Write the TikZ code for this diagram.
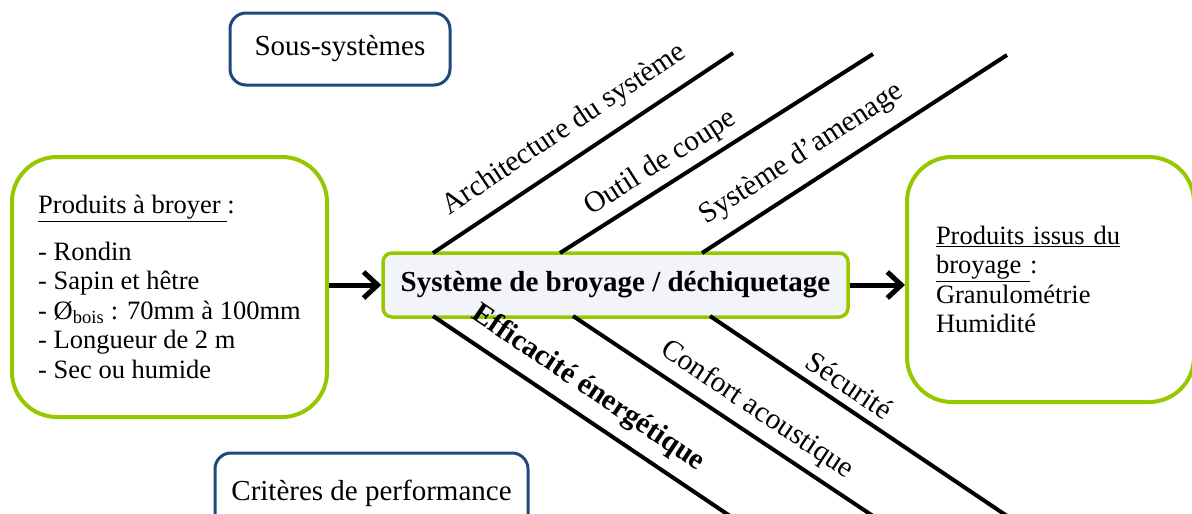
\documentclass[tikz,border=0pt]{standalone}
\usepackage{fontspec}
\setmainfont{Liberation Serif}
\usetikzlibrary{arrows.meta}
\definecolor{grn}{RGB}{150,200,0}
\definecolor{dblue}{RGB}{31,73,125}
\definecolor{cfill}{RGB}{242,244,250}
\begin{document}
\begin{tikzpicture}[x=1pt,y=-1pt,
  greenbox/.style={draw=grn, line width=4pt, rounded corners=45pt, inner sep=0pt, align=left, font=\fontsize{26.5}{29.5}\selectfont},
  bluebox/.style={draw=dblue, line width=3pt, rounded corners=16pt, inner sep=0pt, font=\fontsize{29}{32}\selectfont},
  corebox/.style={draw=grn, line width=3.5pt, fill=cfill, rounded corners=9pt, inner sep=0pt, font=\fontsize{29}{32}\selectfont\bfseries},
  bone/.style={line width=4pt},
  flow/.style={line width=5pt, -{Straight Barb[length=14pt,width=26pt]}},
  lbl/.style={sloped, font=\fontsize{29.5}{31}\selectfont, inner sep=0pt}]
\useasboundingbox (0,0) rectangle (1192,514);
% title boxes
\node[bluebox, minimum width=220pt, minimum height=72pt] (sous) at (340,49) {Sous-systèmes};
\node[bluebox, minimum width=313pt, minimum height=80pt] (crit) at (371.5,493) {Critères de performance};
% central box
\node[corebox, minimum width=465pt, minimum height=64pt] (core) at (615.5,285) {Système de broyage / déchiquetage};
% input and output
\node[greenbox, minimum width=315pt, minimum height=260pt] (inp) at (169.5,287)
  {\underline{Produits à broyer }:\\[17pt]
   - Rondin\\
   - Sapin et hêtre\\
   - Ø\textsubscript{bois} : 70mm à 100mm\\
   - Longueur de 2 m\\
   - Sec ou humide};
\node[greenbox, text width=229pt, inner xsep=29pt, minimum height=245pt] (out) at (1050.5,279.5)
  {\underline{Produits issus du}\\
   \underline{broyage }:\\
   Granulométrie\\
   Humidité};
\draw[flow] (inp.east |- core.west) -- (core.west);
\draw[flow] (core.east) -- (out.west |- core.east);
% bones
\coordinate (a0) at (433,253); \coordinate (a1) at (733,53);
\coordinate (b0) at (560,253); \coordinate (b1) at (873,54);
\coordinate (c0) at (702,253); \coordinate (c1) at (1007,55);
\coordinate (d0) at (433,316); \coordinate (d1) at (733,518);
\coordinate (e0) at (573,316); \coordinate (e1) at (876,518);
\coordinate (f0) at (710,316); \coordinate (f1) at (1010,518);
\draw[bone] (a0) -- (a1) node[lbl, pos=0.493, above=14pt] {Architecture du système};
\draw[bone] (b0) -- (b1) node[lbl, pos=0.36, above=6.5pt] {Outil de coupe};
\draw[bone] (c0) -- (c1) node[lbl, pos=0.378, above=13pt] {Système d’amenage};
\draw[bone] (d0) -- (d1) node[lbl, pos=0.467, above=11pt, font=\fontsize{29.5}{31}\selectfont\bfseries] {Efficacité énergétique};
\draw[bone] (e0) -- (e1) node[lbl, pos=0.564, above=8pt] {Confort acoustique};
\draw[bone] (f0) -- (f1) node[lbl, pos=0.427, above=8pt] {Sécurité};
\end{tikzpicture}
\end{document}
